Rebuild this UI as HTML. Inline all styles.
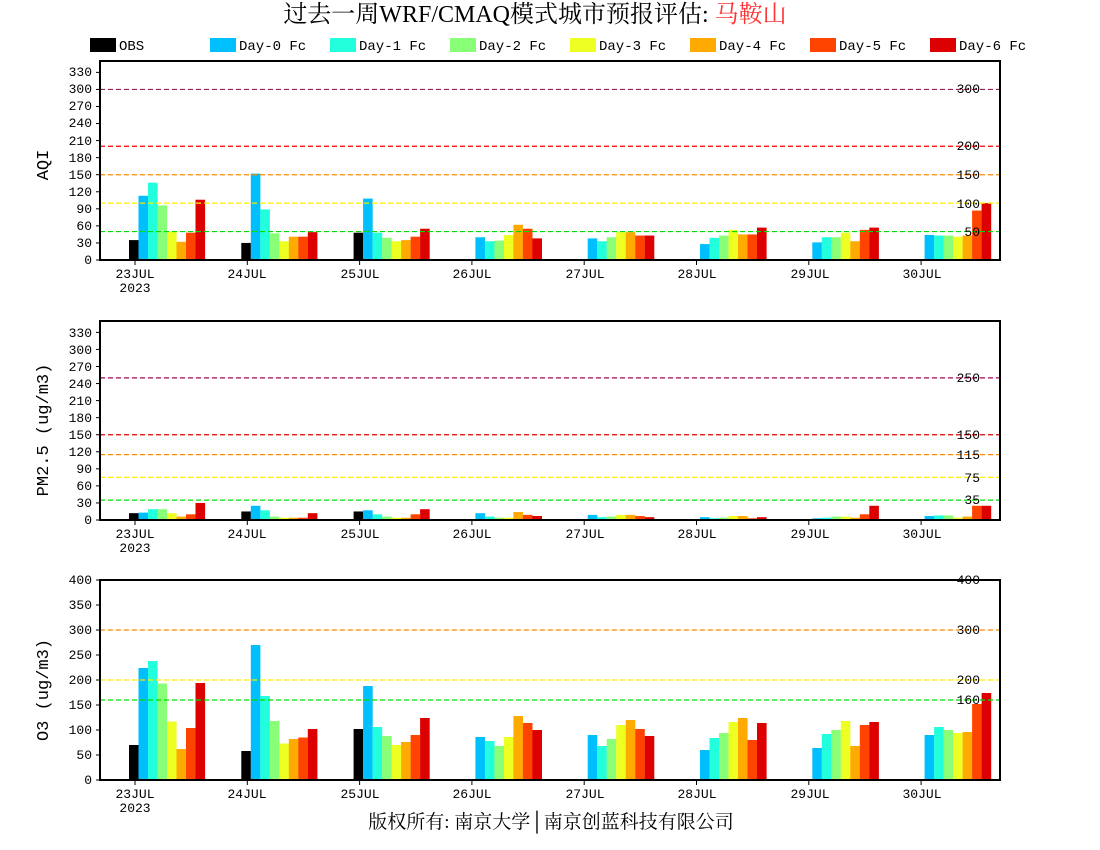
<!DOCTYPE html>
<html><head><meta charset="utf-8"><style>
html,body{margin:0;padding:0;background:#fff;}
svg{display:block;}
text{font-family:"Liberation Mono","Noto Sans CJK SC",monospace;fill:#000;}
</style></head><body>
<svg id="s" width="1100" height="850" xmlns="http://www.w3.org/2000/svg">
<text x="535" y="22" font-size="24" text-anchor="middle" style="font-family:'Liberation Serif','Noto Serif CJK SC',serif">过去一周WRF/CMAQ模式城市预报评估: <tspan fill="#ff3333">马鞍山</tspan></text>
<g font-size="14">
<rect x="90" y="38" width="26" height="14" fill="#000"/><text x="119" y="50">OBS</text>
<rect x="210" y="38" width="26" height="14" fill="#00bfff"/><text x="239" y="50">Day-0 Fc</text>
<rect x="330" y="38" width="26" height="14" fill="#22ffdd"/><text x="359" y="50">Day-1 Fc</text>
<rect x="450" y="38" width="26" height="14" fill="#88ff77"/><text x="479" y="50">Day-2 Fc</text>
<rect x="570" y="38" width="26" height="14" fill="#eeff22"/><text x="599" y="50">Day-3 Fc</text>
<rect x="690" y="38" width="26" height="14" fill="#ffaa00"/><text x="719" y="50">Day-4 Fc</text>
<rect x="810" y="38" width="26" height="14" fill="#ff4400"/><text x="839" y="50">Day-5 Fc</text>
<rect x="930" y="38" width="26" height="14" fill="#dd0000"/><text x="959" y="50">Day-6 Fc</text>
</g>
<g id="bars"></g>
<g id="lines"></g>
<g font-size="13" text-anchor="end">
<text x="92" y="76">330</text><text x="92" y="93">300</text><text x="92" y="110">270</text><text x="92" y="127">240</text><text x="92" y="145">210</text><text x="92" y="162">180</text><text x="92" y="179">150</text><text x="92" y="196">120</text><text x="92" y="213">90</text><text x="92" y="230">60</text><text x="92" y="247">30</text><text x="92" y="264">0</text>
<text x="92" y="337">330</text><text x="92" y="354">300</text><text x="92" y="371">270</text><text x="92" y="388">240</text><text x="92" y="405">210</text><text x="92" y="422">180</text><text x="92" y="439">150</text><text x="92" y="456">120</text><text x="92" y="473">90</text><text x="92" y="490">60</text><text x="92" y="507">30</text><text x="92" y="524">0</text>
<text x="92" y="584">400</text><text x="92" y="609">350</text><text x="92" y="634">300</text><text x="92" y="659">250</text><text x="92" y="684">200</text><text x="92" y="709">150</text><text x="92" y="734">100</text><text x="92" y="759">50</text><text x="92" y="784">0</text>
<text x="980" y="93">300</text><text x="980" y="150">200</text><text x="980" y="179">150</text><text x="980" y="208">100</text><text x="980" y="236">50</text>
<text x="980" y="382">250</text><text x="980" y="439">150</text><text x="980" y="459">115</text><text x="980" y="482">75</text><text x="980" y="504">35</text>
<text x="980" y="584">400</text><text x="980" y="634">300</text><text x="980" y="684">200</text><text x="980" y="704">160</text>
</g>
<g font-size="13" text-anchor="middle">
<text x="135" y="278">23JUL</text><text x="135" y="292">2023</text><text x="247" y="278">24JUL</text><text x="360" y="278">25JUL</text><text x="472" y="278">26JUL</text><text x="585" y="278">27JUL</text><text x="697" y="278">28JUL</text><text x="810" y="278">29JUL</text><text x="922" y="278">30JUL</text>
<text x="135" y="538">23JUL</text><text x="135" y="552">2023</text><text x="247" y="538">24JUL</text><text x="360" y="538">25JUL</text><text x="472" y="538">26JUL</text><text x="585" y="538">27JUL</text><text x="697" y="538">28JUL</text><text x="810" y="538">29JUL</text><text x="922" y="538">30JUL</text>
<text x="135" y="798">23JUL</text><text x="135" y="812">2023</text><text x="247" y="798">24JUL</text><text x="360" y="798">25JUL</text><text x="472" y="798">26JUL</text><text x="585" y="798">27JUL</text><text x="697" y="798">28JUL</text><text x="810" y="798">29JUL</text><text x="922" y="798">30JUL</text>
</g>
<g font-size="17" text-anchor="middle" style="font-family:'Liberation Serif',serif">
<text transform="translate(48,165) rotate(-90)">AQI</text>
<text transform="translate(48,430) rotate(-90)">PM2.5 (ug/m3)</text>
<text transform="translate(48,690) rotate(-90)">O3 (ug/m3)</text>
</g>
<text x="551" y="828" font-size="19" text-anchor="middle" style="font-family:'Liberation Serif','Noto Serif CJK SC',serif">版权所有: 南京大学│南京创蓝科技有限公司</text>
</svg>
<script>
var ns="http://www.w3.org/2000/svg";
var cols=["#000","#00bfff","#22ffdd","#88ff77","#eeff22","#ffaa00","#ff4400","#dd0000"];
var panels=[
{top:61,bot:260,max:350,lines:[[50,"#00dd00"],[100,"#ffee00"],[150,"#ff8800"],[200,"#ff0000"],[300,"#992255"]],
d:[[35,113,136,96,50,32,48,106],[30,152,89,47,33,41,41,49],[48,108,48,39,33,35,41,55],[0,40,33,34,44,62,55,38],[0,38,33,40,49,49,43,43],[0,28,39,43,53,45,45,57],[0,31,40,40,48,33,53,57],[0,44,43,43,41,43,87,100]]},
{top:321,bot:520,max:350,lines:[[35,"#00dd00"],[75,"#ffee00"],[115,"#ff8800"],[150,"#dd0000"],[250,"#aa0055"]],
d:[[12,13,19,19,12,6,10,30],[15,25,17,6,4,4,4,12],[15,17,10,6,4,4,10,19],[0,12,6,4,4,14,9,7],[0,9,5,6,9,9,7,5],[0,5,3,4,7,7,3,5],[0,3,4,6,6,4,10,25],[0,7,8,8,4,6,25,25]]},
{top:580,bot:780,max:400,lines:[[160,"#00dd00"],[200,"#ffee00"],[300,"#ff8800"],[400,"#ff0000"]],
d:[[70,224,238,193,117,62,104,194],[58,270,168,118,73,82,85,102],[102,188,106,88,70,76,90,124],[0,86,78,68,86,128,114,100],[0,90,68,82,110,120,102,88],[0,60,84,94,116,124,80,114],[0,64,92,100,118,68,110,116],[0,90,106,100,94,96,152,174]]}
];
var bars=document.getElementById("bars"),lines=document.getElementById("lines");
function el(t,a,p){var e=document.createElementNS(ns,t);for(var k in a)e.setAttribute(k,a[k]);p.appendChild(e);return e;}
panels.forEach(function(P){
 var s=(P.bot-P.top)/P.max;
 P.d.forEach(function(day,i){
  var x0=129+112.3*i;
  day.forEach(function(v,j){ if(v<=0)return;
   el("rect",{x:x0+j*9.5,y:P.bot-v*s,width:9.6,height:v*s,fill:cols[j]},bars);});
 });
 P.lines.forEach(function(l){var y=P.bot-l[0]*s;
  el("line",{x1:100,x2:1000,y1:y,y2:y,stroke:l[1],"stroke-width":1.2,"stroke-dasharray":"5,3"},lines);});
 el("rect",{x:100,y:P.top,width:900,height:P.bot-P.top,fill:"none",stroke:"#000","stroke-width":2},lines);
 var yt=P.max==400?50:30;
 for(var v=0;v<=P.max;v+=yt){var y=P.bot-v*s;el("line",{x1:96,x2:100,y1:y,y2:y,stroke:"#000"},lines);}
 for(var i=0;i<8;i++){var x=135+112.3*i;el("line",{x1:x,x2:x,y1:P.bot,y2:P.bot+5,stroke:"#000"},lines);}
});
</script>
</body></html>
